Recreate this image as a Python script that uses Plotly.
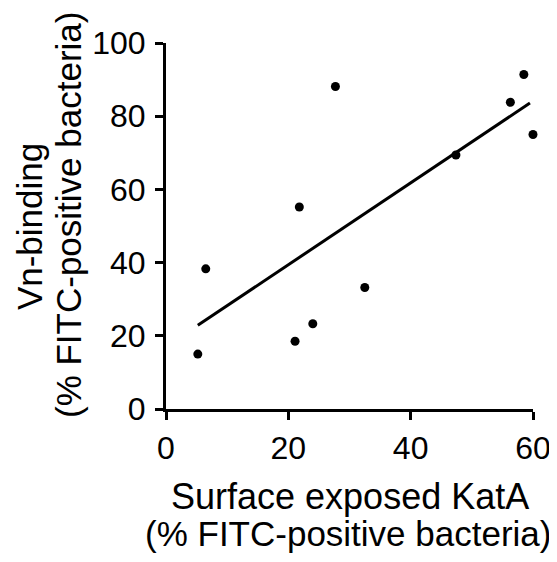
import numpy as np
import plotly.graph_objects as go

# Data
katA_surface = [5.2, 6.5, 21.1, 21.8, 24.0, 27.7, 32.5, 47.4, 56.3, 58.5, 60.0]
vn_binding = [15.0, 38.3, 18.5, 55.2, 23.3, 88.1, 33.2, 69.4, 83.8, 91.4, 75.0]
x_ticks = [0, 20, 40, 60]
y_ticks = [0, 20, 40, 60, 80, 100]

# Linear regression line
slope, intercept = np.polyfit(katA_surface, vn_binding, 1)
fit_x = [min(katA_surface), max(katA_surface) - 0.5]
fit_y = [slope * v + intercept for v in fit_x]

FONT = "Liberation Sans, Arial, sans-serif"

fig = go.Figure()
fig.add_trace(go.Scatter(x=fit_x, y=fit_y, mode="lines",
                         line=dict(color="black", width=3),
                         hoverinfo="skip", showlegend=False, cliponaxis=False))
fig.add_trace(go.Scatter(x=katA_surface, y=vn_binding, mode="markers",
                         marker=dict(color="black", size=9),
                         showlegend=False, cliponaxis=False))

axis_common = dict(showgrid=False, zeroline=False, showline=True, automargin=False,
                   linecolor="black", linewidth=3, ticks="outside",
                   ticklen=8, tickwidth=3, tickcolor="black",
                   tickfont=dict(family=FONT, size=32, color="black"))

fig.update_xaxes(range=[0, 60], tickvals=x_ticks, ticklabelstandoff=1, **axis_common)
fig.update_yaxes(range=[0, 100], tickvals=y_ticks, ticklabelstandoff=3, **axis_common)

title_font = dict(family=FONT, size=36, color="black")
title2_font = dict(family=FONT, size=35, color="black")
annotations = [
    dict(text="Surface exposed KatA", x=0.5, y=0, xref="paper", yref="paper",
         xanchor="center", yanchor="middle", yshift=-87, showarrow=False, font=title_font),
    dict(text="(% FITC-positive bacteria)", x=0.495, y=0, xref="paper", yref="paper",
         xanchor="center", yanchor="middle", yshift=-124, showarrow=False, font=title2_font),
    dict(text="Vn-binding", x=0, y=0.497, xref="paper", yref="paper",
         xanchor="center", yanchor="middle", xshift=-137, textangle=-90,
         showarrow=False, font=title2_font),
    dict(text="(% FITC-positive bacteria)", x=0, y=0.530, xref="paper", yref="paper",
         xanchor="center", yanchor="middle", xshift=-98, textangle=-90,
         showarrow=False, font=title2_font),
]

# The page body adds an 8px offset, so the figure is 8px smaller than the window
fig.update_layout(width=549, height=554, template="none",
                  margin=dict(l=158, r=24, t=35, b=153, autoexpand=False),
                  paper_bgcolor="white", plot_bgcolor="white",
                  annotations=annotations)

fig.write_html("out.html")
